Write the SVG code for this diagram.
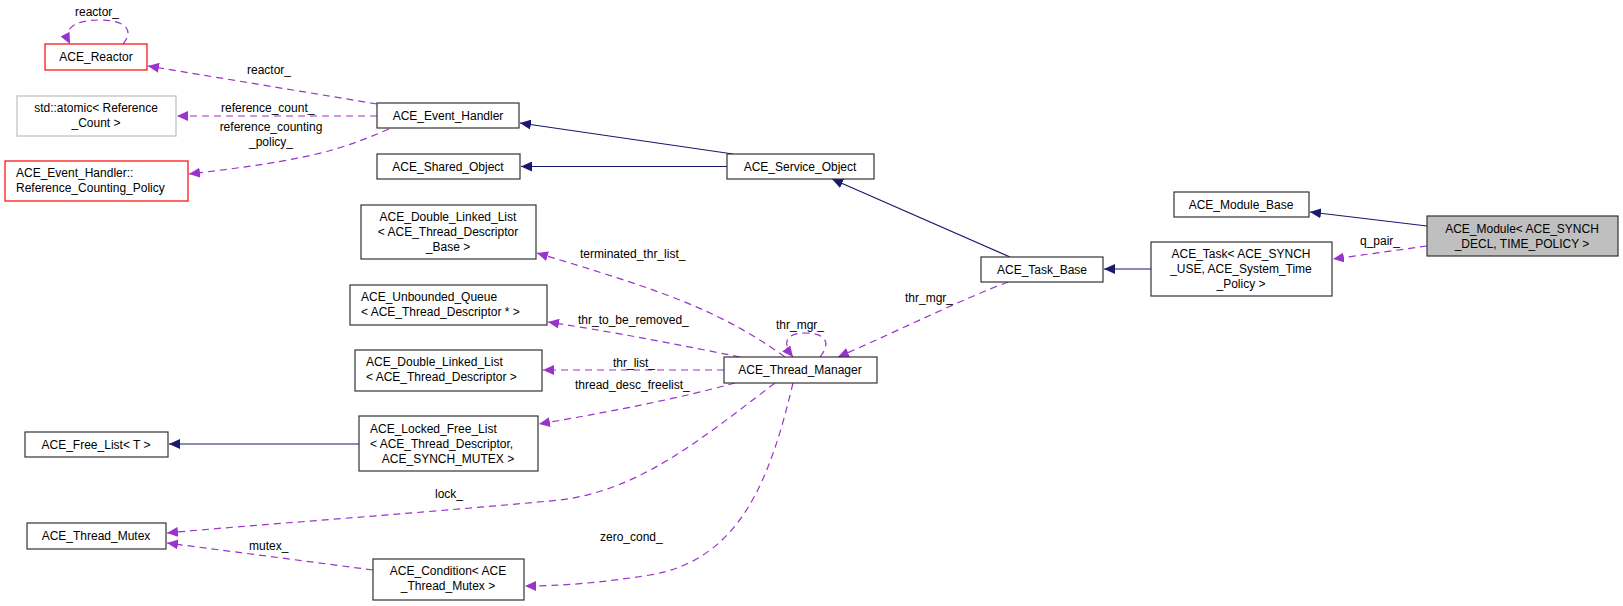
<svg xmlns="http://www.w3.org/2000/svg" width="1623" height="606" viewBox="0 0 1623 606">
<style>
text{font-family:"Liberation Sans",Arial,sans-serif;font-size:12px;fill:#000}
.n{fill:#fff;stroke:#333;stroke-width:1.2}
.r{fill:#fff;stroke:#ff0000;stroke-width:1.2}
.g{fill:#fff;stroke:#bfbfbf;stroke-width:1.2}
.b{fill:none;stroke:#191970;stroke-width:1.2}
.p{fill:none;stroke:#9a32cd;stroke-width:1.2;stroke-dasharray:7,5}
.c{text-anchor:middle}
</style>
<defs>
<marker id="ab" markerWidth="12" markerHeight="10" refX="11" refY="5" orient="auto" markerUnits="userSpaceOnUse"><path d="M0,0L11,5L0,10z" fill="#191970"/></marker>
<marker id="ap" markerWidth="12" markerHeight="10" refX="11" refY="5" orient="auto" markerUnits="userSpaceOnUse"><path d="M0,0L11,5L0,10z" fill="#9a32cd"/></marker>
</defs>
<rect width="1623" height="606" fill="#fff"/>
<g id="connectors">
<path class="b" marker-end="url(#ab)" d="M733,154L520,123"/>
<path class="b" marker-end="url(#ab)" d="M727,166.5L521,166.5"/>
<path class="b" marker-end="url(#ab)" d="M1010,257L832,179"/>
<path class="b" marker-end="url(#ab)" d="M1151,269L1104,269"/>
<path class="b" marker-end="url(#ab)" d="M1427,226L1310,212"/>
<path class="b" marker-end="url(#ab)" d="M359,444L169,444"/>
<path class="p" marker-end="url(#ap)" d="M1427,246L1333,259"/>
<text x="1360" y="245">q_pair_</text>
<path class="p" marker-end="url(#ap)" d="M377,104L148,66"/>
<text x="247" y="74">reactor_</text>
<path class="p" marker-end="url(#ap)" d="M123,44C135,30 125,20 100,20C75,20 62,28 70,44"/>
<text x="75" y="16">reactor_</text>
<path class="p" marker-end="url(#ap)" d="M377,116L177,116"/>
<text x="221" y="112">reference_count_</text>
<path class="p" marker-end="url(#ap)" d="M389,129C340,150 310,160 189,174"/>
<text x="271" y="131" class="c">reference_counting</text>
<text x="271" y="146" class="c">_policy_</text>
<path class="p" marker-end="url(#ap)" d="M1008,282C960,300 900,330 838,357"/>
<text x="905" y="302">thr_mgr_</text>
<path class="p" marker-end="url(#ap)" d="M820,357C832,342 825,333 805,333C785,333 782,343 793,357"/>
<text x="776" y="329">thr_mgr_</text>
<path class="p" marker-end="url(#ap)" d="M785,357C720,310 660,290 537,253"/>
<text x="580" y="258">terminated_thr_list_</text>
<path class="p" marker-end="url(#ap)" d="M740,357C680,345 620,333 548,322"/>
<text x="578" y="324">thr_to_be_removed_</text>
<path class="p" marker-end="url(#ap)" d="M724,370L543,370"/>
<text x="613" y="367">thr_list_</text>
<path class="p" marker-end="url(#ap)" d="M735,383C680,398 620,410 539,424"/>
<text x="575" y="389">thread_desc_freelist_</text>
<path class="p" marker-end="url(#ap)" d="M775,383C700,440 640,490 560,500C400,515 250,525 167,533"/>
<text x="435" y="498">lock_</text>
<path class="p" marker-end="url(#ap)" d="M793,383C770,480 740,560 650,575C600,583 560,586 525,586"/>
<text x="600" y="541">zero_cond_</text>
<path class="p" marker-end="url(#ap)" d="M373,570L167,543"/>
<text x="249" y="550">mutex_</text>
</g>
<g id="ACE_Reactor"><rect class="r" x="45" y="44" width="102" height="26"/><text class="c" x="96" y="61">ACE_Reactor</text></g>
<g id="std_atomic"><rect class="g" x="17" y="96" width="159" height="40"/><text class="c" x="96" y="112">std::atomic&lt; Reference</text><text class="c" x="96" y="127">_Count &gt;</text></g>
<g id="RCP"><rect class="r" x="5" y="161" width="183" height="40"/><text x="16" y="177">ACE_Event_Handler::</text><text x="16" y="192">Reference_Counting_Policy</text></g>
<g id="ACE_Event_Handler"><rect class="n" x="377" y="103" width="142" height="25"/><text class="c" x="448" y="120">ACE_Event_Handler</text></g>
<g id="ACE_Shared_Object"><rect class="n" x="377" y="154" width="143" height="25"/><text class="c" x="448" y="171">ACE_Shared_Object</text></g>
<g id="ACE_Service_Object"><rect class="n" x="727" y="154" width="147" height="25"/><text class="c" x="800" y="171">ACE_Service_Object</text></g>
<g id="ACE_Module_Base"><rect class="n" x="1174" y="192" width="135" height="25"/><text class="c" x="1241" y="209">ACE_Module_Base</text></g>
<g id="ACE_Module"><rect x="1427" y="216" width="191" height="40" fill="#bfbfbf" stroke="#333" stroke-width="1.2"/><text class="c" x="1522" y="233">ACE_Module&lt; ACE_SYNCH</text><text class="c" x="1522" y="248">_DECL, TIME_POLICY &gt;</text></g>
<g id="ACE_Task"><rect class="n" x="1151" y="242" width="181" height="54"/><text class="c" x="1241" y="258">ACE_Task&lt; ACE_SYNCH</text><text class="c" x="1241" y="273">_USE, ACE_System_Time</text><text class="c" x="1241" y="288">_Policy &gt;</text></g>
<g id="ACE_Task_Base"><rect class="n" x="981" y="257" width="122" height="25"/><text class="c" x="1042" y="274">ACE_Task_Base</text></g>
<g id="DLL_Base"><rect class="n" x="361" y="205" width="175" height="54"/><text class="c" x="448" y="221">ACE_Double_Linked_List</text><text class="c" x="448" y="236">&lt; ACE_Thread_Descriptor</text><text class="c" x="448" y="251">_Base &gt;</text></g>
<g id="UQ"><rect class="n" x="350" y="285" width="197" height="40"/><text x="361" y="301">ACE_Unbounded_Queue</text><text x="361" y="316">&lt; ACE_Thread_Descriptor * &gt;</text></g>
<g id="DLL"><rect class="n" x="355" y="350" width="187" height="41"/><text x="366" y="366">ACE_Double_Linked_List</text><text x="366" y="381">&lt; ACE_Thread_Descriptor &gt;</text></g>
<g id="ACE_Thread_Manager"><rect class="n" x="724" y="357" width="153" height="26"/><text class="c" x="800" y="374">ACE_Thread_Manager</text></g>
<g id="LFL"><rect class="n" x="359" y="416" width="179" height="55"/><text x="370" y="433">ACE_Locked_Free_List</text><text x="370" y="448">&lt; ACE_Thread_Descriptor,</text><text class="c" x="448" y="463">ACE_SYNCH_MUTEX &gt;</text></g>
<g id="ACE_Free_List"><rect class="n" x="25" y="432" width="143" height="25"/><text class="c" x="96" y="449">ACE_Free_List&lt; T &gt;</text></g>
<g id="ACE_Thread_Mutex"><rect class="n" x="27" y="523" width="139" height="26"/><text class="c" x="96" y="540">ACE_Thread_Mutex</text></g>
<g id="ACE_Condition"><rect class="n" x="373" y="559" width="151" height="41"/><text class="c" x="448" y="575">ACE_Condition&lt; ACE</text><text class="c" x="448" y="590">_Thread_Mutex &gt;</text></g>
</svg>
